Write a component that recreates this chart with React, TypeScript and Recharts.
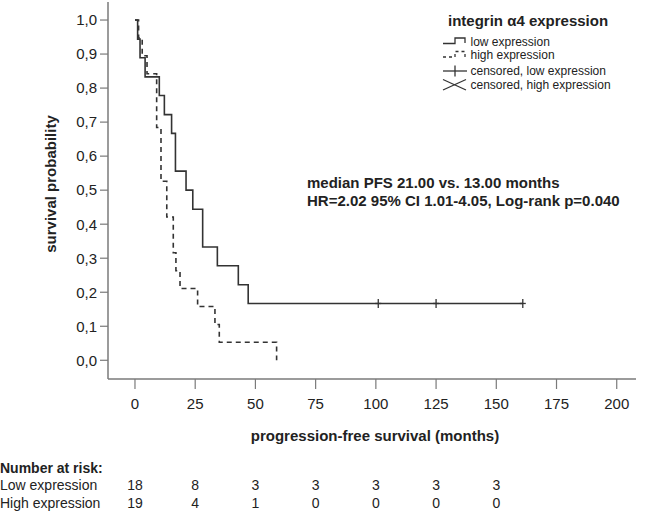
import { ComposedChart, Line, Scatter, XAxis, YAxis } from "recharts";

const FONT = '"Liberation Sans", Arial, sans-serif';

// Kaplan-Meier steps, low integrin α4 expression (n=18)
const lowTimes = [0, 1.1, 2.1, 4.2, 10.1, 12.2, 15.2, 16.8, 21.2, 24.0, 28.1, 34.2, 42.9, 47.0, 161];
const lowSurv = [1.0, 0.944, 0.889, 0.833, 0.778, 0.722, 0.667, 0.556, 0.5, 0.444, 0.333, 0.278, 0.222, 0.167, 0.167];

// high integrin α4 expression (n=19)
const highTimes = [0, 1.5, 3, 5, 9, 10.8, 13.2, 15.9, 17.0, 18.7, 26.0, 33.2, 35.0, 58.8];
const highSurv = [1.0, 0.947, 0.895, 0.842, 0.684, 0.526, 0.421, 0.316, 0.263, 0.211, 0.158, 0.105, 0.053, 0.0];

// censored observations, low expression
const censoredLowTimes = [101, 125, 161];
const censoredLowSurv = [0.167, 0.167, 0.167];

const xTicks = [0, 25, 50, 75, 100, 125, 150, 175, 200];
const yTicks = [0, 0.1, 0.2, 0.3, 0.4, 0.5, 0.6, 0.7, 0.8, 0.9, 1.0];

// number at risk table
const riskTimes = [0, 25, 50, 75, 100, 125, 150];
const riskLow = [18, 8, 3, 3, 3, 3, 3];
const riskHigh = [19, 4, 1, 0, 0, 0, 0];

const lowData = lowTimes.map((t, i) => ({ t, s: lowSurv[i] }));
const highData = highTimes.map((t, i) => ({ t, s: highSurv[i] }));
const censoredData = censoredLowTimes.map((t, i) => ({ t, s: censoredLowSurv[i] }));

const W = 645;
const H = 513;
const X_MIN = -11.2;
const X_MAX = 208;
const Y_MIN = -0.055;
const Y_MAX = 1.053;
const margin = { top: 2, right: 9, left: 48, bottom: 104 };
const Y_AXIS_W = 60;
const X_AXIS_H = 30;
const PLOT_LEFT = margin.left + Y_AXIS_W;
const PLOT_W = W - margin.right - PLOT_LEFT;

const xPx = (t: number) => PLOT_LEFT + ((t - X_MIN) / (X_MAX - X_MIN)) * PLOT_W;

const AXIS = "#7a7a7a";
const LINE = "#333333";
const TEXT = "#222222";

const CensorMark = (props: any) => {
  const { cx, cy } = props;
  if (cx == null || cy == null) return null;
  return (
    <g stroke={LINE} strokeWidth={1.3}>
      <line x1={cx} x2={cx} y1={cy - 4.5} y2={cy + 4.5} />
      <line x1={cx - 3} x2={cx + 3} y1={cy} y2={cy} />
    </g>
  );
};

const Legend = () => (
  <g fontFamily={FONT} fill={TEXT}>
    <text x={448} y={20} fontSize={15} fontWeight="bold" dominantBaseline="central">
      integrin α4 expression
    </text>
    <path d="M443,43.5 H455 V38 H465 V43" fill="none" stroke={LINE} strokeWidth={1.3} />
    <text x={470.5} y={41.5} fontSize={12} dominantBaseline="central">low expression</text>
    <path d="M443,57 H455 V51.5 H465 V57" fill="none" stroke={LINE} strokeWidth={1.3} strokeDasharray="3 3" />
    <text x={470.5} y={54.5} fontSize={12} dominantBaseline="central">high expression</text>
    <g stroke={LINE} strokeWidth={1.3}>
      <line x1={443} x2={467} y1={71} y2={71} />
      <line x1={455} x2={455} y1={65.5} y2={76.5} />
      <line x1={443} x2={466} y1={79.5} y2={90} />
      <line x1={443} x2={466} y1={90} y2={79.5} />
    </g>
    <text x={470.5} y={71} fontSize={12} dominantBaseline="central">censored, low expression</text>
    <text x={470.5} y={85} fontSize={12} dominantBaseline="central">censored, high expression</text>
  </g>
);

const Overlay = () => (
  <svg width={W} height={H} style={{ position: "absolute", left: 0, top: 0, pointerEvents: "none" }}>
    <Legend />
    <g fontFamily={FONT} fill={TEXT} fontWeight="bold" fontSize={15}>
      <text x={307} y={182} dominantBaseline="central">median PFS 21.00 vs. 13.00 months</text>
      <text x={307} y={200} dominantBaseline="central">HR=2.02 95% CI 1.01-4.05, Log-rank p=0.040</text>
      <text x={375} y={435} textAnchor="middle" dominantBaseline="central">
        progression-free survival (months)
      </text>
      <text
        x={50}
        y={184}
        textAnchor="middle"
        dominantBaseline="central"
        transform="rotate(-90 50 184)"
      >
        survival probability
      </text>
    </g>
    <g fontFamily={FONT} fill={TEXT} fontSize={14}>
      <text x={0} y={468} fontWeight="bold" dominantBaseline="central">Number at risk:</text>
      <text x={0} y={485} dominantBaseline="central">Low expression</text>
      <text x={0} y={503} dominantBaseline="central">High expression</text>
      {riskTimes.map((t, i) => (
        <text key={"l" + t} x={xPx(t)} y={485} textAnchor="middle" dominantBaseline="central">
          {riskLow[i]}
        </text>
      ))}
      {riskTimes.map((t, i) => (
        <text key={"h" + t} x={xPx(t)} y={503} textAnchor="middle" dominantBaseline="central">
          {riskHigh[i]}
        </text>
      ))}
    </g>
  </svg>
);

export default function App() {
  return (
    <div style={{ position: "absolute", left: 0, top: 0, width: W, height: H, background: "#fff" }}>
      <ComposedChart width={W} height={H} margin={margin}>
        <XAxis
          type="number"
          dataKey="t"
          domain={[X_MIN, X_MAX]}
          ticks={xTicks}
          allowDataOverflow
          height={X_AXIS_H}
          tickSize={10}
          tickMargin={9}
          axisLine={{ stroke: AXIS, strokeWidth: 1.5 }}
          tickLine={{ stroke: AXIS, strokeWidth: 1.2 }}
          tick={{ fill: TEXT, fontSize: 15, fontFamily: FONT }}
        />
        <YAxis
          type="number"
          domain={[Y_MIN, Y_MAX]}
          ticks={yTicks}
          allowDataOverflow
          width={Y_AXIS_W}
          tickSize={8}
          tickMargin={3}
          tickFormatter={(v: number) => v.toFixed(1).replace(".", ",")}
          axisLine={{ stroke: AXIS, strokeWidth: 1.5 }}
          tickLine={{ stroke: AXIS, strokeWidth: 1.2 }}
          tick={{ fill: TEXT, fontSize: 15, fontFamily: FONT }}
        />
        <Line
          data={lowData}
          dataKey="s"
          type="stepAfter"
          stroke={LINE}
          strokeWidth={1.6}
          dot={false}
          activeDot={false}
          isAnimationActive={false}
        />
        <Line
          data={highData}
          dataKey="s"
          type="stepAfter"
          stroke={LINE}
          strokeWidth={1.6}
          strokeDasharray="5 4"
          dot={false}
          activeDot={false}
          isAnimationActive={false}
        />
        <Scatter data={censoredData} dataKey="s" shape={CensorMark} isAnimationActive={false} />
      </ComposedChart>
      <Overlay />
    </div>
  );
}
